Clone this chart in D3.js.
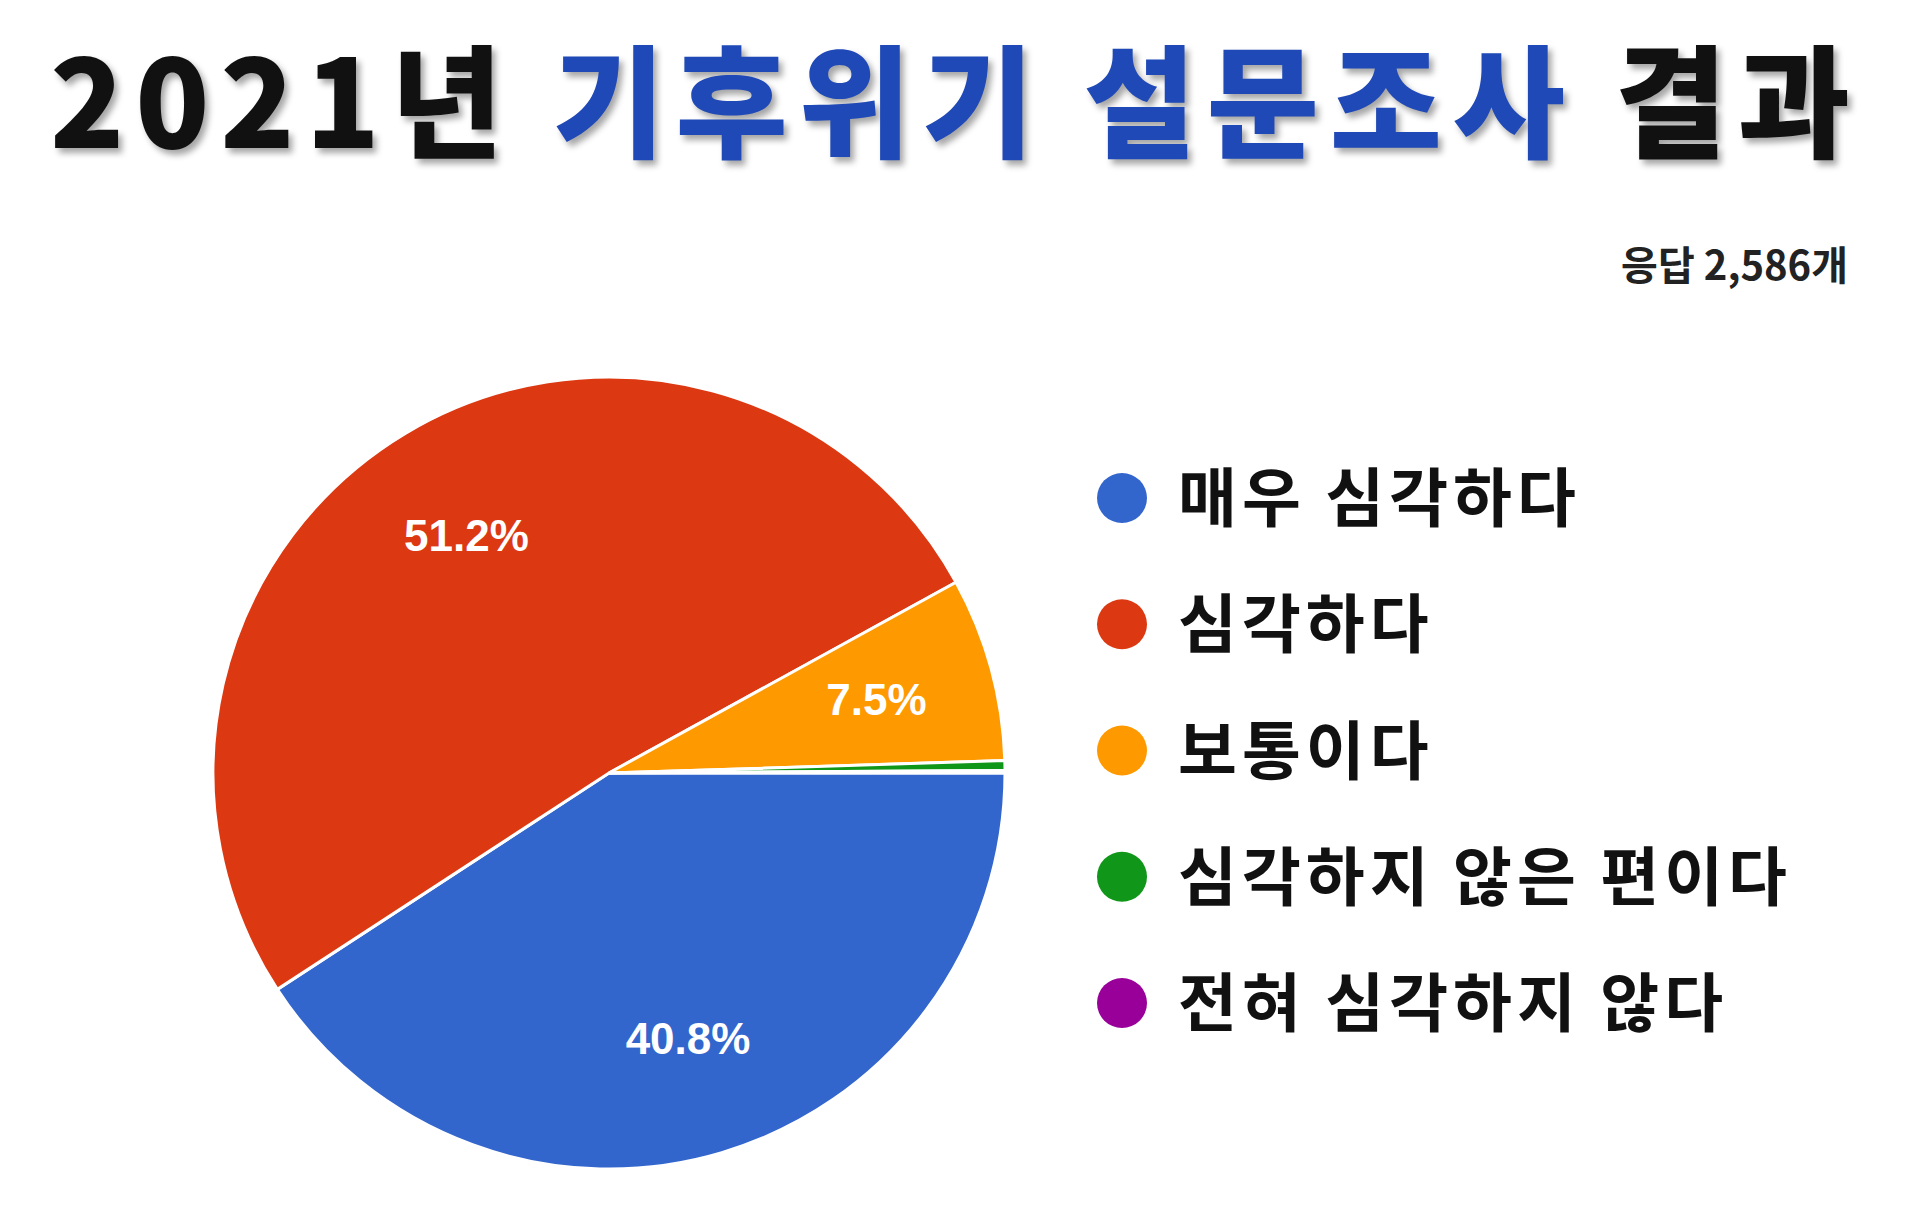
<!DOCTYPE html>
<html><head><meta charset="utf-8">
<script src="https://cdn.jsdelivr.net/npm/d3@7"></script>
<style>body{margin:0;background:#fff}</style>
</head><body>
<svg id="chart" width="1920" height="1219"></svg>
<script>
// survey answers
const categories = ["매우 심각하다", "심각하다", "보통이다", "심각하지 않은 편이다", "전혀 심각하지 않다"];
const shares = [40.8, 51.2, 7.5, 0.4, 0.1];
const colors = ["#3366cc", "#dc3912", "#ff9900", "#109618", "#990099"];

const svg = d3.select("#chart");
const font = "'Noto Sans CJK KR', 'Noto Sans', sans-serif";

// title with soft shadow
const title = svg.append("text").attr("x", 50).attr("y", 148)
	.attr("textLength", 1800).attr("lengthAdjust", "spacing")
	.attr("font-family", font)
	.attr("font-weight", 900).attr("font-size", 122)
	.style("filter", "drop-shadow(4px 5px 3px rgba(0,0,0,0.35))");
title.append("tspan").attr("fill", "#111").text("2021년 ");
title.append("tspan").attr("fill", "#1f49b6").text("기후위기 설문조사 ");
title.append("tspan").attr("fill", "#111").text("결과");

svg.append("text").attr("x", 1848).attr("y", 280).attr("text-anchor", "end")
	.attr("font-family", font).attr("font-weight", 700).attr("font-size", 40)
	.attr("fill", "#222").text("응답 2,586개");

const cx = 609, cy = 773, r = 396;
const pie = d3.pie().sort(null).startAngle(Math.PI / 2).endAngle(Math.PI / 2 + 2 * Math.PI);
const arc = d3.arc().innerRadius(0).outerRadius(r);
const labelArc = d3.arc().innerRadius(r * 0.7).outerRadius(r * 0.7);
const arcs = pie(shares);

const g = svg.append("g").attr("transform", `translate(${cx},${cy})`);
g.selectAll("path").data(arcs).join("path")
	.attr("d", arc).attr("fill", (d, i) => colors[i])
	.attr("stroke", "#fff").attr("stroke-width", 3);

g.selectAll("text").data(arcs.filter(d => d.data >= 5)).join("text")
	.attr("transform", d => `translate(${labelArc.centroid(d)})`)
	.attr("text-anchor", "middle").attr("dy", "0.35em")
	.attr("font-family", "'Liberation Sans', Arial, sans-serif").attr("font-weight", 700)
	.attr("font-size", 44).attr("fill", "#fff")
	.text(d => d.data + "%");

// legend
const legendY = d3.scalePoint().domain(categories).range([498, 1003]);
const lg = svg.append("g");
lg.selectAll("circle").data(categories).join("circle")
	.attr("cx", 1122).attr("cy", d => legendY(d)).attr("r", 25)
	.attr("fill", (d, i) => colors[i]);
lg.selectAll("text").data(categories).join("text")
	.attr("x", 1178).attr("y", d => legendY(d)).attr("dy", "0.36em")
	.attr("font-family", font).attr("font-weight", 700).attr("font-size", 64)
	.attr("letter-spacing", 5)
	.attr("fill", "#111").text(d => d);
</script>
</body></html>
